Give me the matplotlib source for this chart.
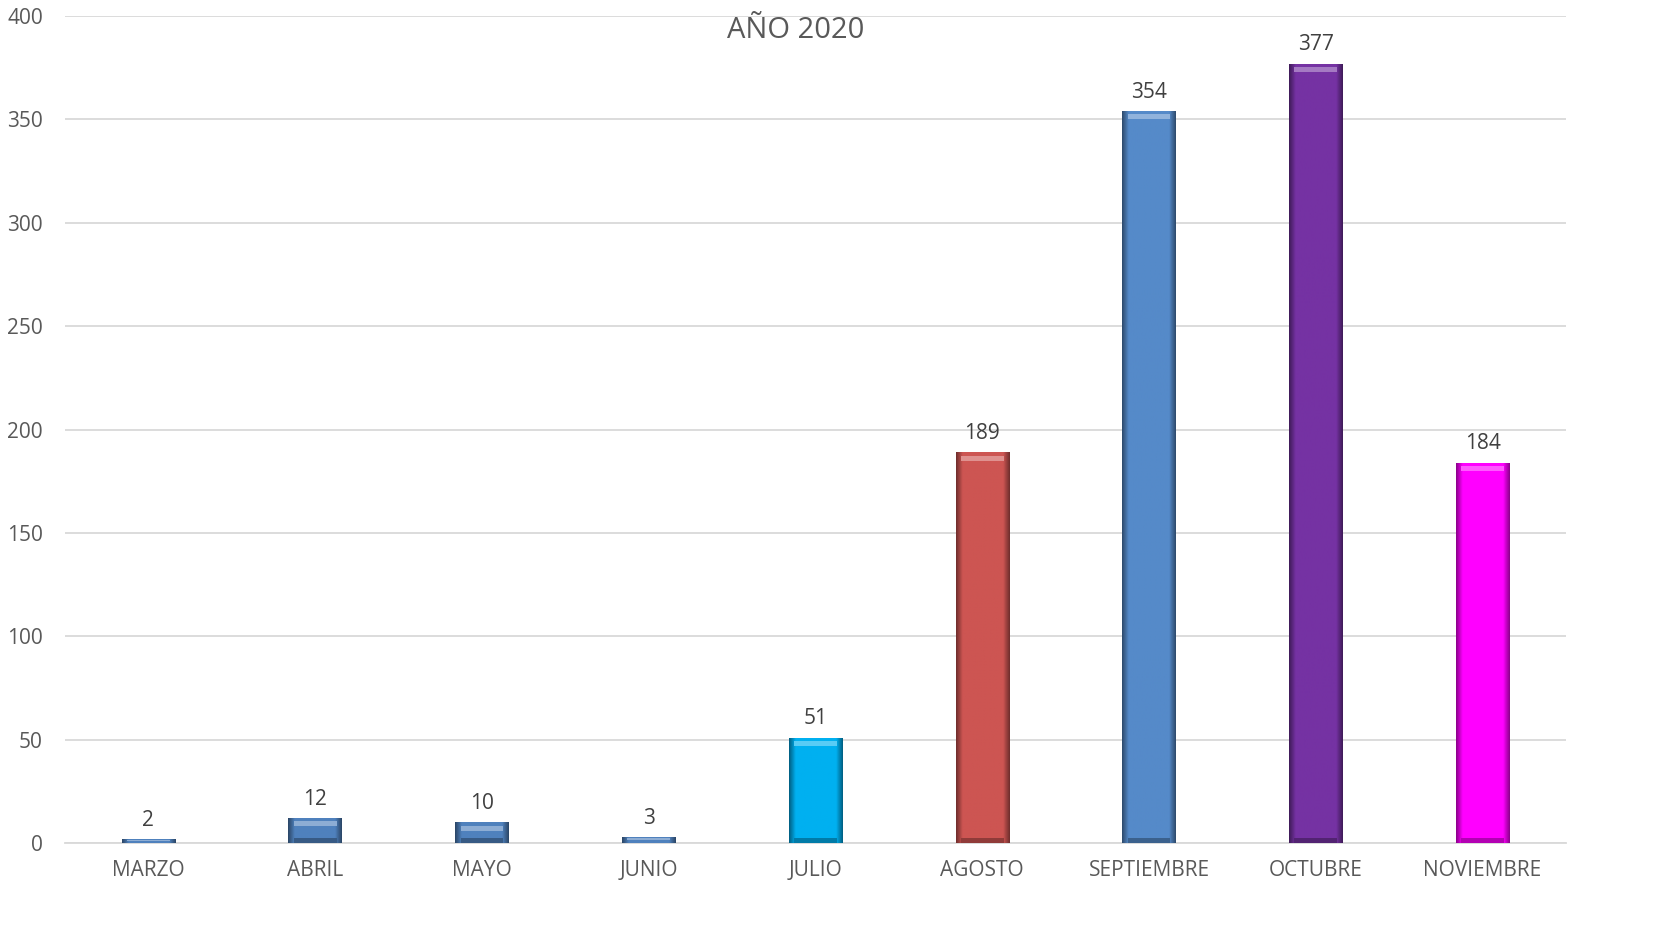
import matplotlib
matplotlib.use("Agg")
import matplotlib.pyplot as plt
import numpy as np
from matplotlib.colors import to_rgb

months = ["MARZO", "ABRIL", "MAYO", "JUNIO", "JULIO", "AGOSTO", "SEPTIEMBRE", "OCTUBRE", "NOVIEMBRE"]
values = [2, 12, 10, 3, 51, 189, 354, 377, 184]
colors = ["#4F81BD", "#4F81BD", "#4F81BD", "#4F81BD", "#00B0F0", "#CD5552", "#558AC9", "#7532A3", "#FF00FF"]
yticks = [0, 50, 100, 150, 200, 250, 300, 350, 400]
title = "AÑO 2020"

plt.rcParams['font.family'] = ['Open Sans', 'DejaVu Sans']

fig = plt.figure(figsize=(16.61, 9.38), dpi=100)
ax = fig.add_axes([65/1661, 1 - 843/938, (1566-65)/1661, (843-16)/938])

x = np.arange(len(months))
width = 0.32
bars = ax.bar(x, values, width=width, color=colors, zorder=3, edgecolor="none")

# bevel shading: horizontal gradient clipped to each bar
for b, c in zip(bars, colors):
    base = np.array(to_rgb(c))
    n = 64
    t = np.linspace(0, 1, n)
    shade = np.ones(n)
    edge = 0.12
    shade = np.where(t < edge, 0.55 + 0.45 * (t / edge), shade)
    shade = np.where(t > 1 - edge, 0.55 + 0.45 * ((1 - t) / edge), shade)
    img = np.clip(base[None, None, :] * shade[None, :, None], 0, 1)
    img = np.repeat(img, 2, axis=0)
    bx, by, bw, bh = b.get_x(), b.get_y(), b.get_width(), b.get_height()
    im = ax.imshow(img, extent=[bx, bx + bw, by, by + bh], aspect='auto', zorder=3.5, interpolation='bilinear')
    im.set_clip_path(b)
    cap_h = min(bh * 0.5, 4.0)
    light = np.clip(base + (1 - base) * 0.35, 0, 1)
    ax.add_patch(plt.Rectangle((bx + bw * 0.1, by + bh - cap_h), bw * 0.8, cap_h * 0.6,
                               color=light, zorder=3.6, lw=0))
    dark = base * 0.7
    if bh > 8:
        ax.add_patch(plt.Rectangle((bx + bw * 0.1, by), bw * 0.8, 2.5, color=dark, zorder=3.6, lw=0))

for xi, v in zip(x, values):
    ax.text(xi, v + 4, str(v), ha='center', va='bottom', fontsize=15, color='#404040')

ax.set_xlim(-0.5, len(months) - 0.5)
ax.set_ylim(0, 400)
ax.set_yticks(yticks)
ax.set_xticks(x)
ax.set_xticklabels(months)
ax.tick_params(axis='both', length=0, labelsize=15, colors='#595959')
ax.tick_params(axis='y', pad=16)
ax.tick_params(axis='x', pad=12)
ax.grid(axis='y', color='#D9D9D9', linewidth=1.3, zorder=0)
for s in ['top', 'right', 'left']:
    ax.spines[s].set_visible(False)
ax.spines['bottom'].set_color('#D9D9D9')
ax.spines['bottom'].set_linewidth(1.3)

fig.text(796/1661, 1 - 30/938, title, ha='center', va='center', fontsize=21, color='#595959')

fig.savefig("out.png", dpi=100, facecolor='white')
